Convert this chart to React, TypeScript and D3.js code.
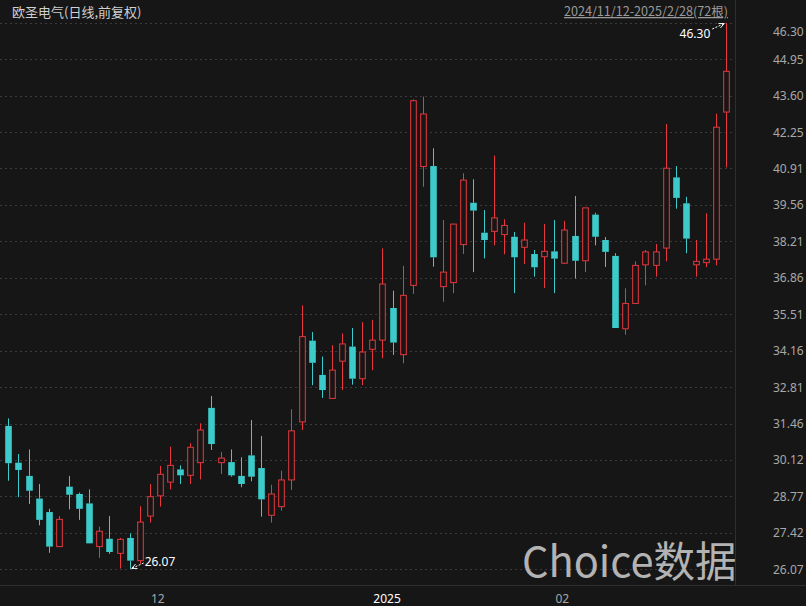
import React from "react";
import * as d3 from "d3";

// OHLC of 72 daily candles, 2024/11/12 - 2025/2/28
const opens = [31.37,30.01,29.52,28.68,28.18,26.90,29.12,28.85,28.50,26.90,27.19,26.65,27.22,26.38,28.03,28.78,29.29,29.76,29.54,30.01,32.04,30.01,30.03,29.52,30.28,29.81,28.06,28.38,29.37,31.52,34.53,33.26,32.39,33.77,34.31,33.12,34.21,34.55,35.74,34.01,36.58,40.98,41.00,36.53,36.68,38.09,39.64,38.53,38.58,38.46,38.38,37.99,37.74,37.64,37.84,37.40,38.41,37.49,39.20,38.26,37.67,34.97,35.91,37.34,37.32,37.96,40.58,39.62,37.34,37.42,37.55,43.00];
const highs = [31.65,30.33,30.50,29.22,28.30,28.03,29.52,28.90,29.02,27.64,28.03,27.22,27.39,28.40,29.22,29.89,30.60,29.91,30.73,31.47,32.48,30.41,30.50,30.21,31.59,31.00,29.19,29.71,31.99,35.84,34.85,33.94,34.36,34.80,35.00,35.22,35.30,37.95,36.38,37.30,43.47,43.57,41.66,39.00,38.85,40.73,40.51,39.37,41.39,39.03,38.56,38.90,37.89,38.85,39.00,38.97,39.89,39.45,39.27,38.37,37.77,36.47,37.47,37.89,38.11,42.56,41.00,39.86,38.26,39.25,42.94,46.30];
const lows = [29.34,28.73,28.48,27.69,26.67,26.90,28.28,27.89,27.02,26.48,26.63,26.09,26.07,26.26,27.79,28.38,29.02,29.22,29.22,29.39,30.48,29.59,29.49,29.10,29.32,28.01,27.79,28.23,29.00,31.22,32.88,32.41,32.39,32.70,32.90,32.88,33.44,33.88,34.00,33.69,36.26,40.23,37.27,35.97,36.29,37.74,37.07,37.58,38.06,37.73,36.29,37.37,36.90,36.48,36.29,37.37,36.83,37.07,38.06,37.26,35.00,34.75,35.91,36.58,36.90,37.47,39.42,37.77,36.90,37.25,37.32,40.95];
const closes = [29.99,29.74,28.97,27.89,26.90,27.91,28.82,28.30,27.02,27.47,26.70,27.17,26.38,27.81,28.75,29.58,29.91,29.54,30.58,31.22,30.70,30.18,29.54,29.22,29.49,28.65,28.85,29.37,31.19,34.68,33.71,32.70,33.44,34.41,33.12,34.11,34.55,36.63,34.46,36.21,43.42,42.93,37.62,37.07,38.85,40.48,39.35,38.26,39.08,38.80,37.62,38.26,37.25,37.84,37.57,38.63,37.49,39.45,38.38,37.82,35.00,35.91,37.32,37.82,37.82,40.92,39.82,38.31,37.47,37.55,42.44,44.51];

const yTickLabels = ["46.30","44.95","43.60","42.25","40.91","39.56","38.21","36.86","35.51","34.16","32.81","31.46","30.12","28.77","27.42","26.07"];
const xTickLabels = ["12", "2025", "02"];
const xTickIndex = [14, 36, 54];
const titleText = "欧圣电气(日线,前复权)";
const rangeText = "2024/11/12-2025/2/28(72根)";
const maxLabel = "46.30";
const minLabel = "26.07";

const W = 806, H = 606;
const BG = "#161616";
const RED = "#e8383e";
const CYAN = "#3ccaca";
const NUM_FONT = "'Noto Sans', 'Open Sans', sans-serif";
const CJK_FONT = "'Noto Sans CJK SC', 'Noto Sans', sans-serif";

export default function App() {
  const n = opens.length;
  const x = d3.scaleLinear().domain([0, n - 1]).range([8.3, 726.3]);
  const y = d3.scaleLinear().domain([26.07, 46.3]).range([569, 23]);
  const bw = 6.6;
  const plotRight = 735.5;
  const axisY = 585.5;

  const maxIdx = d3.maxIndex(highs);
  const minIdx = d3.minIndex(lows);
  const maxPt = [x(maxIdx), y(highs[maxIdx])];
  const minPt = [x(minIdx), y(lows[minIdx])];

  return (
    <svg width={W} height={H} style={{ position: "absolute", left: 0, top: 0, display: "block" }}>
      <defs>
        <marker id="ah" viewBox="0 0 10 10" refX="9" refY="5" markerWidth="6" markerHeight="6" orient="auto-start-reverse">
          <path d="M0,1 L9,5 L0,9" fill="none" stroke="#fff" strokeWidth="1.4" />
        </marker>
      </defs>
      <rect x={0} y={0} width={W} height={H} fill={BG} />

      {/* grid lines */}
      {yTickLabels.map((t) => {
        const yy = Math.round(y(+t)) + 0.5;
        return (
          <line key={"g" + t} x1={0} x2={plotRight} y1={yy} y2={yy} stroke="#3a3a3a" strokeWidth={1} strokeDasharray="2,3" />
        );
      })}

      {/* separators */}
      <line x1={plotRight} x2={plotRight} y1={0} y2={axisY} stroke="#2e2e2e" strokeWidth={1} />
      <line x1={0} x2={W} y1={axisY} y2={axisY} stroke="#2e2e2e" strokeWidth={1} />

      {/* watermark */}
      <text x={522} y={577} fontFamily={CJK_FONT} fontSize={41.5} fill="#c4c4c4" opacity={0.9}>Choice数据</text>

      {/* candles */}
      {opens.map((o, i) => {
        const c = closes[i];
        const up = c >= o;
        const cx = Math.round(x(i)) + 0.5;
        const top = y(Math.max(o, c));
        const bot = y(Math.min(o, c));
        const col = up ? RED : CYAN;
        return (
          <g key={i}>
            <line x1={cx} x2={cx} y1={y(highs[i])} y2={top} stroke={col} strokeWidth={1} />
            <line x1={cx} x2={cx} y1={bot} y2={y(lows[i])} stroke={col} strokeWidth={1} />
            {up ? (
              <rect x={cx - bw / 2 + 0.5} y={top} width={bw - 1} height={Math.max(bot - top, 1)} fill={BG} stroke={col} strokeWidth={1} />
            ) : (
              <rect x={cx - bw / 2} y={top} width={bw} height={Math.max(bot - top, 1)} fill={col} />
            )}
          </g>
        );
      })}

      {/* max / min annotations */}
      <line x1={maxPt[0] - 14} x2={maxPt[0] - 2} y1={maxPt[1] + 6} y2={maxPt[1] + 0.5} stroke="#fff" strokeWidth={1} strokeDasharray="2,1.5" markerEnd="url(#ah)" />
      <text x={maxPt[0] - 16} y={maxPt[1] + 15} textAnchor="end" fontFamily={NUM_FONT} fontSize={12} fill="#fff">{maxLabel}</text>
      <line x1={minPt[0] + 14} x2={minPt[0] + 2} y1={minPt[1] - 6} y2={minPt[1] - 0.5} stroke="#fff" strokeWidth={1} strokeDasharray="2,1.5" markerEnd="url(#ah)" />
      <text x={minPt[0] + 15} y={minPt[1] - 3} fontFamily={NUM_FONT} fontSize={12} fill="#fff">{minLabel}</text>

      {/* y axis labels */}
      {yTickLabels.map((t) => {
        const yy = Math.max(y(+t), 31);
        return (
          <text key={"t" + t} x={773} y={yy + 4.5} fontFamily={NUM_FONT} fontSize={12} fill="#a8a8a8">{t}</text>
        );
      })}

      {/* x axis labels */}
      {xTickLabels.map((t, k) => (
        <text key={"x" + t} x={x(xTickIndex[k]) + 1} y={603} fontFamily={NUM_FONT} fontSize={12} fill={t === "2025" ? "#ffffff" : "#a8a8a8"}>{t}</text>
      ))}

      {/* titles */}
      <text x={12} y={17} fontFamily={CJK_FONT} fontSize={13} fill="#d0d0d0">{titleText}</text>
      <text x={728} y={16} textAnchor="end" fontFamily={CJK_FONT} fontSize={12.6} fill="#9a9a9a" textDecoration="underline">{rangeText}</text>
    </svg>
  );
}
